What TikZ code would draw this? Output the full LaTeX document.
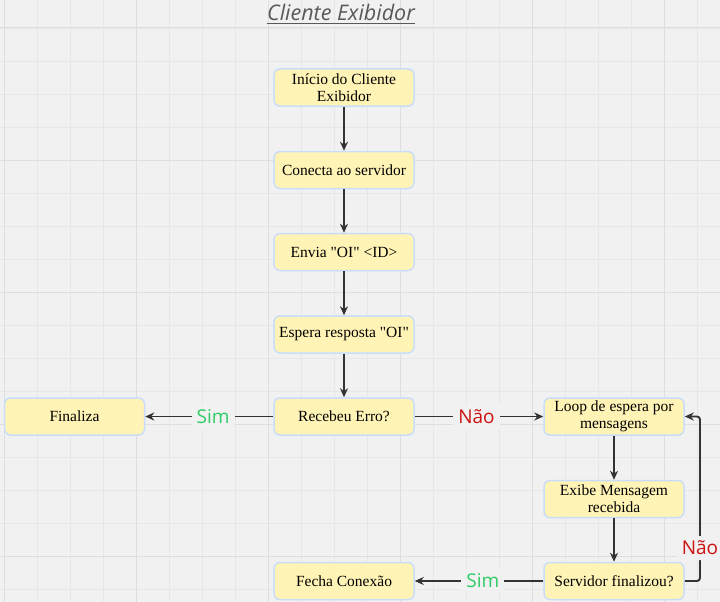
\documentclass[tikz,border=0pt]{standalone}
\usepackage{fontspec}
\setmainfont{Liberation Serif}[Ligatures=TeXOff]
\newfontfamily\rotulofont{Open Sans}
\usetikzlibrary{arrows.meta}

% cores do fluxograma
\definecolor{fundo}{HTML}{F1F1F1}
\definecolor{gradefina}{HTML}{E7E7E7}
\definecolor{gradegrossa}{HTML}{DEDEDE}
\definecolor{caixafill}{HTML}{FFF4B6}
\definecolor{caixaborda}{HTML}{C9DDF9}
\definecolor{setacor}{HTML}{333333}
\definecolor{simcor}{HTML}{2ECC65}
\definecolor{naocor}{HTML}{CC1111}
\definecolor{titulocor}{HTML}{595959}

\tikzset{
  passo/.style={draw=caixaborda, fill=caixafill, line width=1.5pt, rounded corners=6pt,
    minimum width=140pt, minimum height=37pt, align=center, inner sep=1pt,
    font=\fontsize{15.5}{17}\selectfont},
  seta/.style={draw=setacor, line width=1.9pt, -{Stealth[length=9pt,width=8pt]}},
  sim/.style={text=simcor, fill=fundo, inner sep=5pt, font=\rotulofont\fontsize{19}{21}\selectfont},
  nao/.style={text=naocor, fill=fundo, inner sep=5pt, font=\rotulofont\fontsize{19}{21}\selectfont},
  titulo/.style={text=titulocor, inner sep=0pt, font=\rotulofont\itshape\fontsize{21.5}{24}\selectfont}
}

\begin{document}
\begin{tikzpicture}[x=1pt,y=-1pt]
    % Fundo e grade
    \useasboundingbox (0,0) rectangle (720,602);
    \fill[fundo] (0,0) rectangle (720,602);
    \foreach \gx in {4,37,...,700}
        \draw[gradefina, line width=0.8pt] (\gx,0) -- (\gx,602);
    \foreach \gy in {28,61,...,600}
        \draw[gradefina, line width=0.8pt] (0,\gy) -- (720,\gy);
    \foreach \gx in {4,136,...,700}
        \draw[gradegrossa, line width=1pt] (\gx,0) -- (\gx,602);
    \foreach \gy in {28,160,...,600}
        \draw[gradegrossa, line width=1pt] (0,\gy) -- (720,\gy);

    % Titulo
    \node[titulo, anchor=base] (titulo) at (341,21) {Cliente Exibidor};
    \draw[titulocor, line width=1.3pt] ([yshift=-2.2pt]titulo.base west) -- ([yshift=-2.2pt]titulo.base east);

    % Passos
    \node[passo] (inicio) at (344,87.5) {Início do Cliente\\Exibidor};
    \node[passo] (conecta) at (344,170) {Conecta ao servidor};
    \node[passo] (envia) at (344,252) {Envia "OI" <ID>};
    \node[passo] (espera) at (344,334.5) {Espera resposta "OI"};
    \node[passo] (erro) at (344,416.5) {Recebeu Erro?};
    \node[passo] (finaliza) at (74.5,416.5) {Finaliza};
    \node[passo] (loop) at (614,416.5) {Loop de espera por\\mensagens};
    \node[passo] (exibe) at (614,499) {Exibe Mensagem\\recebida};
    \node[passo] (servidor) at (614,581) {Servidor finalizou?};
    \node[passo] (fecha) at (344,581) {Fecha Conexão};

    % Setas
    \draw[seta] (inicio) -- (conecta);
    \draw[seta] (conecta) -- (envia);
    \draw[seta] (envia) -- (espera);
    \draw[seta] (espera) -- (erro);
    \draw[seta] (erro) -- node[sim, pos=0.47] (simerro) {Sim} (finaliza);
    \draw[seta] (erro) -- node[nao, pos=0.48] (naoerro) {Não} (loop);
    \draw[seta] (loop) -- (exibe);
    \draw[seta] (exibe) -- (servidor);
    \draw[seta] (servidor) -- node[sim, pos=0.47] (simfim) {Sim} (fecha);

    % Volta ao loop
    \coordinate (cantobaixo) at (700,581);
    \coordinate (cantocima) at (700,416.5);
    \draw[seta, rounded corners=3pt] (servidor.east) -- (cantobaixo)
        -- node[nao, pos=0.2] (naofim) {Não} (cantocima) -- (loop.east);
\end{tikzpicture}
\end{document}
